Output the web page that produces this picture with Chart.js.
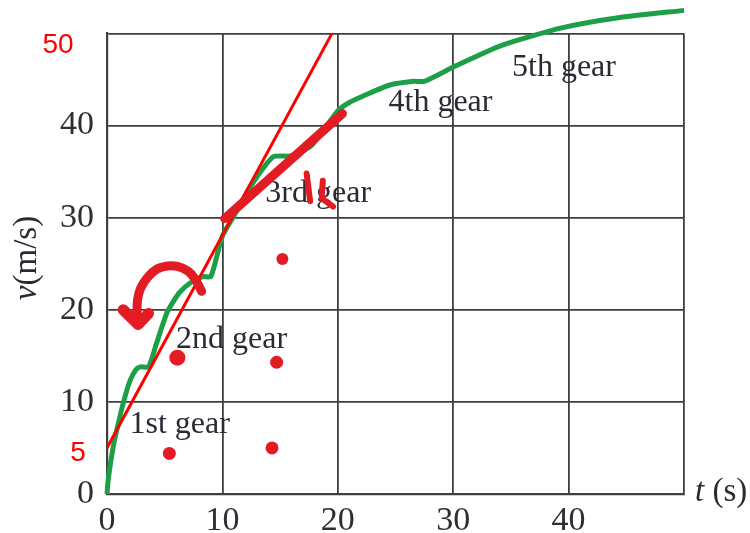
<!DOCTYPE html>
<html>
<head>
<meta charset="utf-8">
<script src="https://cdn.jsdelivr.net/npm/chart.js@4.4.1/dist/chart.umd.min.js"></script>
<style>
  body { margin: 0; background: #fff; }
</style>
</head>
<body>
<canvas id="gearChart" width="750" height="533"></canvas>
<script>
// speed vs time
const timeS = [0, 0.1, 0.3, 0.6, 1.1, 1.5, 2.0, 2.5, 2.9, 3.6, 4.3, 5.2, 5.8, 6.3, 7.2, 8.3, 9.0, 10.0, 11.0, 12.5, 14.4, 15.9, 17.7, 20.0, 21.0, 22.2, 24.5, 26.6, 27.5, 30.1, 34.2, 39.4, 44.3, 50.0];
const speed = [0, 1.5, 3.3, 5.5, 8.3, 10.3, 12.3, 13.5, 13.8, 13.8, 16.4, 19.7, 21.0, 21.9, 22.9, 23.6, 23.6, 28.0, 30.2, 33.5, 36.6, 36.7, 37.8, 41.6, 42.5, 43.2, 44.4, 44.8, 44.8, 46.4, 48.7, 50.6, 51.7, 52.5];

// gear labels: text, x, y (baseline)
const gearNames = ["1st gear", "2nd gear", "3rd gear", "4th gear", "5th gear"];
const gearX = [6.3, 10.8, 18.3, 28.9, 39.6];
const gearY = [6.6, 15.9, 31.75, 41.6, 45.4];

const tickValues = [0, 10, 20, 30, 40];

// red hand drawn marks
const redLineX = [0, 19.5];
const redLineY = [5, 50];
const thickX = [10.2, 20.4];
const thickY = [29.9, 41.3];
const arcX = [8.2, 7.6, 7.0, 6.1, 5.25, 4.3, 3.5, 2.9, 2.65, 2.6];
const arcY = [22.0, 23.4, 24.2, 24.7, 24.75, 24.4, 23.5, 22.3, 21.1, 19.5];
const headX = [1.4, 2.7, 3.6];
const headY = [20.0, 18.4, 19.6];
const mark1X = [17.3, 17.6];
const mark1Y = [34.8, 31.8];
const mark2X = [18.7, 18.6, 19.6];
const mark2Y = [34.0, 32.1, 31.2];
const dotX = [6.1, 14.7, 5.4, 14.3, 15.2];
const dotY = [14.8, 14.3, 4.4, 5.0, 25.5];
const dotR = [8, 6.5, 6.5, 6.5, 6];

const zip = (xs, ys) => xs.map((x, i) => ({ x: x, y: ys[i] }));

const serif = "'Liberation Serif', 'Times New Roman', serif";
const red = "#e31b23";
const gridCol = "#3f3f3f";

function redStroke(xs, ys, width) {
  return {
    data: zip(xs, ys),
    borderColor: red,
    borderWidth: width,
    borderCapStyle: "round",
    borderJoinStyle: "round",
    pointRadius: 0,
    showLine: true,
    order: 1,
  };
}

const arrowArc = redStroke(arcX, arcY, 9);
arrowArc.tension = 0.4;

const textPlugin = {
  id: "texts",
  beforeDatasetsDraw(chart) {
    const ctx = chart.ctx;
    const xs = chart.scales.x;
    const ys = chart.scales.y;
    ctx.save();
    ctx.font = "32px " + serif;
    ctx.fillStyle = "#2a2a35";
    ctx.textAlign = "center";
    ctx.textBaseline = "alphabetic";
    gearNames.forEach((name, i) => {
      ctx.fillText(name, xs.getPixelForValue(gearX[i]), ys.getPixelForValue(gearY[i]));
    });
    ctx.restore();
  },
  afterDraw(chart) {
    const ctx = chart.ctx;
    ctx.save();
    ctx.fillStyle = "#2a2a35";
    ctx.textBaseline = "alphabetic";
    ctx.textAlign = "left";

    // x axis title at the right
    ctx.font = "italic 33px " + serif;
    ctx.fillText("t", 695, 501);
    let w = ctx.measureText("t").width;
    ctx.font = "33px " + serif;
    ctx.fillText(" (s)", 695 + w, 501);

    // y axis title, rotated
    ctx.translate(36, 258);
    ctx.rotate(-Math.PI / 2);
    ctx.font = "italic 33px " + serif;
    const vw = ctx.measureText("v").width;
    ctx.font = "33px " + serif;
    const rest = ctx.measureText("(m/s)").width;
    const start = -(vw + rest) / 2;
    ctx.font = "italic 33px " + serif;
    ctx.fillText("v", start, 0);
    ctx.font = "33px " + serif;
    ctx.fillText("(m/s)", start + vw, 0);
    ctx.restore();

    // red numbers written next to the axis
    ctx.save();
    ctx.fillStyle = "#ff0000";
    ctx.font = "28px 'Liberation Sans', Arial, sans-serif";
    ctx.textAlign = "center";
    ctx.textBaseline = "middle";
    ctx.fillText("50", 58, 45);
    ctx.fillText("5", 78, 453);
    ctx.restore();
  },
};

new Chart(document.getElementById("gearChart"), {
  type: "scatter",
  data: {
    datasets: [
      {
        data: zip(timeS, speed),
        borderColor: "#1d9f48",
        borderWidth: 5,
        pointRadius: 0,
        showLine: true,
        tension: 0.2,
        borderJoinStyle: "round",
        clip: false,
        order: 5,
      },
      {
        data: zip(redLineX, redLineY),
        borderColor: "#ff0000",
        borderWidth: 3,
        pointRadius: 0,
        showLine: true,
        order: 2,
      },
      redStroke(thickX, thickY, 9),
      arrowArc,
      redStroke(headX, headY, 11),
      redStroke(mark1X, mark1Y, 6),
      redStroke(mark2X, mark2Y, 6),
      {
        data: zip(dotX, dotY),
        backgroundColor: red,
        borderWidth: 0,
        pointRadius: dotR,
        order: 1,
      },
    ],
  },
  plugins: [textPlugin],
  options: {
    responsive: false,
    animation: false,
    layout: { padding: { top: 33, right: 66, left: 0, bottom: 0 } },
    plugins: { legend: { display: false }, tooltip: { enabled: false } },
    scales: {
      x: {
        type: "linear",
        min: 0,
        max: 50,
        afterBuildTicks: (s) => { s.ticks = tickValues.concat([50]).map((v) => ({ value: v })); },
        afterFit: (s) => { s.height = 39; },
        ticks: {
          callback: (v) => (v === 50 ? "" : v),
          font: { family: serif, size: 34 },
          color: "#2e2e35",
          padding: 7,
          maxRotation: 0,
        },
        grid: { color: gridCol, lineWidth: 1.8, drawTicks: false },
        border: { color: gridCol, width: 2.2 },
      },
      y: {
        min: 0,
        max: 50,
        afterBuildTicks: (s) => { s.ticks = tickValues.concat([50]).map((v) => ({ value: v })); },
        afterFit: (s) => { s.width = 107; },
        ticks: {
          callback: (v) => (v === 50 ? "" : v),
          font: { family: serif, size: 34 },
          color: "#2e2e35",
          padding: 13,
        },
        grid: { color: gridCol, lineWidth: 1.8, drawTicks: false },
        border: { color: gridCol, width: 2.2 },
      },
    },
  },
});
</script>
</body>
</html>
